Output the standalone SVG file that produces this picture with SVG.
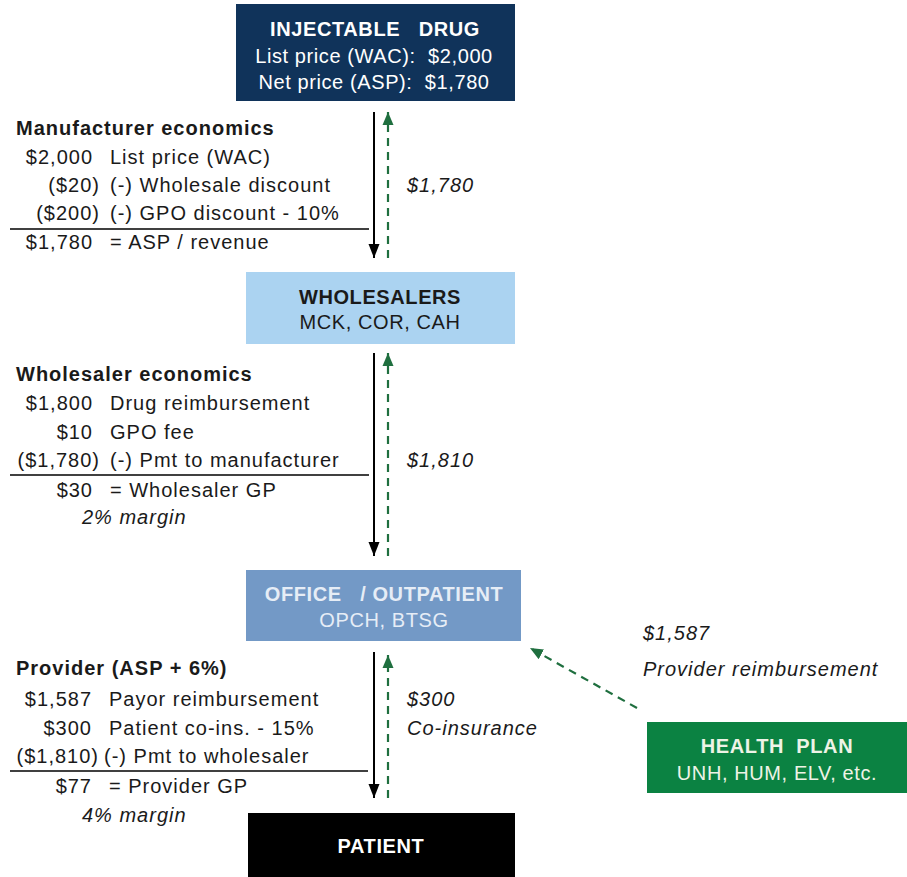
<svg xmlns="http://www.w3.org/2000/svg" width="907" height="877" viewBox="0 0 907 877">
  <style>
    text { font-family: "Liberation Sans", Arial, sans-serif; font-size: 20px; letter-spacing: 1px; fill: #1a1a1a; }
    .node text { letter-spacing: 0.6px; }
    .b { font-weight: bold; }
    .i { font-style: italic; }
    .num { text-anchor: end; }
    .c { text-anchor: middle; }
    .w { fill: #ffffff; }
    .lt { fill: #e6edf6; }
    .hp { fill: #eef3e6; }
    .rule { stroke: #000; stroke-width: 1.6; }
    .flow { stroke: #000; stroke-width: 2; fill: none; }
    .pay { stroke: #1f6f3f; stroke-width: 2.2; stroke-dasharray: 8 6; fill: none; }
  </style>
  <defs>
    <marker id="ah-black" viewBox="0 0 14 14" refX="14" refY="7" markerWidth="14" markerHeight="14" markerUnits="userSpaceOnUse" orient="auto">
      <path d="M0,1.5 L14,7 L0,12.5 Z" fill="#000"/>
    </marker>
    <marker id="ah-green" viewBox="0 0 13 13" refX="13" refY="6.5" markerWidth="13" markerHeight="13" markerUnits="userSpaceOnUse" orient="auto">
      <path d="M0,1 L13,6.5 L0,12 Z" fill="#1f6f3f"/>
    </marker>
  </defs>

  <rect width="907" height="877" fill="#ffffff"/>

  <!-- nodes -->
  <g id="drug" class="node">
    <rect x="236" y="4" width="279" height="97" fill="#10335a"/>
    <text class="c b w" x="375" y="36" xml:space="preserve">INJECTABLE   DRUG</text>
    <text class="c w" x="374" y="63" xml:space="preserve">List price (WAC):  $2,000</text>
    <text class="c w" x="374" y="89" xml:space="preserve">Net price (ASP):  $1,780</text>
  </g>

  <g id="wholesalers" class="node">
    <rect x="246" y="272" width="269" height="72" fill="#abd3f1"/>
    <text class="c b" x="380" y="304">WHOLESALERS</text>
    <text class="c" x="380" y="329">MCK, COR, CAH</text>
  </g>

  <g id="office" class="node">
    <rect x="246" y="570" width="275" height="71" fill="#7399c6"/>
    <text class="c b lt" x="384" y="601" xml:space="preserve">OFFICE   / OUTPATIENT</text>
    <text class="c lt" x="384" y="627">OPCH, BTSG</text>
  </g>

  <g id="patient" class="node">
    <rect x="248" y="813" width="267" height="64" fill="#000000"/>
    <text class="c b w" x="381" y="853">PATIENT</text>
  </g>

  <g id="health-plan" class="node">
    <rect x="647" y="722" width="260" height="71" fill="#0b8242"/>
    <text class="c b hp" x="777" y="753" xml:space="preserve">HEALTH  PLAN</text>
    <text class="c hp" x="777" y="780">UNH, HUM, ELV, etc.</text>
  </g>

  <!-- connectors -->
  <g id="connectors">
    <path class="flow" d="M374,112 V258" marker-end="url(#ah-black)"/>
    <path class="pay" d="M388,258 V112" marker-end="url(#ah-green)"/>
    <path class="flow" d="M374,353 V556" marker-end="url(#ah-black)"/>
    <path class="pay" d="M388,556 V353" marker-end="url(#ah-green)"/>
    <path class="flow" d="M374,652 V798" marker-end="url(#ah-black)"/>
    <path class="pay" d="M388,798 V655" marker-end="url(#ah-green)"/>
    <path class="pay" d="M637,708 L530,648" marker-end="url(#ah-green)"/>
  </g>

  <!-- flow amounts -->
  <g id="flow-labels">
    <text class="i" x="407" y="192">$1,780</text>
    <text class="i" x="407" y="467">$1,810</text>
    <text class="i" x="407" y="706">$300</text>
    <text class="i" x="407" y="735">Co-insurance</text>
    <text class="i" x="643" y="640">$1,587</text>
    <text class="i" x="643" y="676">Provider reimbursement</text>
  </g>

  <!-- manufacturer economics -->
  <g id="manufacturer-economics">
    <text class="b" x="16" y="135">Manufacturer economics</text>
    <text class="num" x="93" y="164">$2,000</text>
    <text x="110" y="164">List price (WAC)</text>
    <text class="num" x="100" y="192">($20)</text>
    <text x="110" y="192">(-) Wholesale discount</text>
    <text class="num" x="100" y="220">($200)</text>
    <text x="110" y="220">(-) GPO discount - 10%</text>
    <line class="rule" x1="10" y1="229" x2="369" y2="229"/>
    <text class="num" x="93" y="249">$1,780</text>
    <text x="110" y="249">= ASP / revenue</text>
  </g>

  <!-- wholesaler economics -->
  <g id="wholesaler-economics">
    <text class="b" x="16" y="381">Wholesaler economics</text>
    <text class="num" x="93" y="410">$1,800</text>
    <text x="110" y="410">Drug reimbursement</text>
    <text class="num" x="93" y="439">$10</text>
    <text x="110" y="439">GPO fee</text>
    <text class="num" x="100" y="467">($1,780)</text>
    <text x="110" y="467">(-) Pmt to manufacturer</text>
    <line class="rule" x1="10" y1="475" x2="369" y2="475" stroke-width="2"/>
    <text class="num" x="93" y="497">$30</text>
    <text x="110" y="497">= Wholesaler GP</text>
    <text class="i" x="82" y="524">2% margin</text>
  </g>

  <!-- provider economics -->
  <g id="provider-economics">
    <text class="b" x="16" y="675">Provider (ASP + 6%)</text>
    <text class="num" x="92" y="706">$1,587</text>
    <text x="109" y="706">Payor reimbursement</text>
    <text class="num" x="92" y="735">$300</text>
    <text x="109" y="735">Patient co-ins. - 15%</text>
    <text class="num" x="99" y="763">($1,810)</text>
    <text x="104" y="763">(-) Pmt to wholesaler</text>
    <line class="rule" x1="10" y1="771" x2="368" y2="771"/>
    <text class="num" x="92" y="793">$77</text>
    <text x="109" y="793">= Provider GP</text>
    <text class="i" x="82" y="822">4% margin</text>
  </g>
</svg>
